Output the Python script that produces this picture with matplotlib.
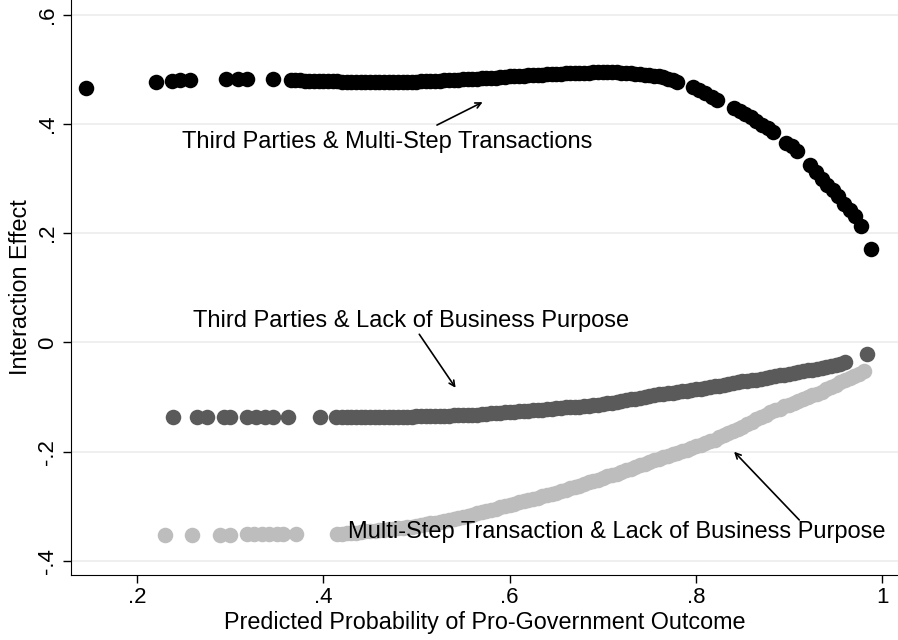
import matplotlib
matplotlib.use("Agg")
import matplotlib.pyplot as plt

plt.rcParams['font.family'] = ['Liberation Sans', 'DejaVu Sans']

# Third Parties & Multi-Step Transactions
tp_ms_x = [0.145, 0.220, 0.237, 0.246, 0.257, 0.295, 0.308, 0.318, 0.346,
           0.365, 0.370, 0.375, 0.380, 0.385, 0.390, 0.395, 0.400, 0.405, 0.410,
           0.415, 0.420, 0.425, 0.430, 0.435, 0.440, 0.445, 0.450, 0.455, 0.460,
           0.465, 0.470, 0.475, 0.480, 0.485, 0.490, 0.495, 0.500, 0.505, 0.510,
           0.515, 0.520, 0.525, 0.530, 0.535, 0.540, 0.545, 0.550, 0.555, 0.560,
           0.565, 0.570, 0.575, 0.580, 0.585, 0.590, 0.595, 0.600, 0.605, 0.610,
           0.615, 0.620, 0.625, 0.630, 0.635, 0.640, 0.645, 0.650, 0.655, 0.660,
           0.665, 0.670, 0.675, 0.680, 0.685, 0.690, 0.695, 0.700, 0.705, 0.710,
           0.715, 0.720, 0.725, 0.730, 0.735, 0.740, 0.745, 0.750, 0.755, 0.760,
           0.765, 0.770, 0.775, 0.780,
           0.797, 0.803, 0.810, 0.817, 0.823,
           0.841, 0.847, 0.853, 0.859, 0.865, 0.871, 0.877, 0.883,
           0.897, 0.903, 0.909,
           0.923, 0.929, 0.935, 0.941, 0.947, 0.953, 0.959, 0.965, 0.971, 0.977,
           0.988]
tp_ms_y = [0.466, 0.477, 0.479, 0.480, 0.481, 0.483, 0.483, 0.483, 0.483,
           0.480, 0.480, 0.480, 0.479, 0.479, 0.479, 0.479, 0.478, 0.478, 0.478,
           0.478, 0.477, 0.477, 0.477, 0.477, 0.477, 0.477, 0.477, 0.477, 0.477,
           0.477, 0.477, 0.477, 0.477, 0.477, 0.477, 0.477, 0.477, 0.478, 0.478,
           0.478, 0.479, 0.479, 0.480, 0.480, 0.481, 0.481, 0.482, 0.482, 0.483,
           0.483, 0.484, 0.484, 0.485, 0.485, 0.486, 0.486, 0.487, 0.487, 0.488,
           0.488, 0.489, 0.489, 0.490, 0.490, 0.491, 0.491, 0.492, 0.492, 0.493,
           0.493, 0.494, 0.494, 0.494, 0.494, 0.495, 0.495, 0.495, 0.495, 0.495,
           0.495, 0.494, 0.494, 0.493, 0.492, 0.491, 0.490, 0.489, 0.488, 0.487,
           0.486, 0.483, 0.480, 0.477,
           0.468, 0.463, 0.456, 0.450, 0.444,
           0.429, 0.423, 0.418, 0.412, 0.406, 0.399, 0.392, 0.385,
           0.366, 0.359, 0.350,
           0.324, 0.312, 0.300, 0.289, 0.279, 0.268, 0.254, 0.242, 0.231, 0.213,
           0.172]

# Third Parties & Lack of Business Purpose
tp_lbp_x = [0.239, 0.264, 0.275, 0.293, 0.300, 0.318, 0.328, 0.337, 0.346,
            0.362, 0.396, 0.414,
            0.420, 0.425, 0.430, 0.435, 0.440, 0.445, 0.450, 0.455, 0.460, 0.465,
            0.470, 0.475, 0.480, 0.485, 0.490, 0.495, 0.500, 0.505, 0.510, 0.515,
            0.520, 0.525, 0.530, 0.535, 0.540, 0.545, 0.550, 0.555, 0.560, 0.565,
            0.570, 0.575, 0.580, 0.585, 0.590, 0.595, 0.600, 0.605, 0.610, 0.615,
            0.620, 0.625, 0.630, 0.635, 0.640, 0.645, 0.650, 0.655, 0.660, 0.665,
            0.670, 0.675, 0.680, 0.685, 0.690, 0.695, 0.700, 0.705, 0.710, 0.715,
            0.720, 0.725, 0.730, 0.735, 0.740, 0.745, 0.750, 0.755, 0.760, 0.765,
            0.770, 0.775, 0.780, 0.785, 0.790, 0.795, 0.800, 0.805, 0.810, 0.815,
            0.820, 0.825, 0.830, 0.835, 0.840, 0.845, 0.850, 0.855, 0.860, 0.865,
            0.870, 0.875, 0.880, 0.885, 0.890, 0.895, 0.900, 0.905, 0.910, 0.915,
            0.920, 0.925, 0.930, 0.935, 0.940, 0.945, 0.950, 0.955, 0.960,
            0.984]
tp_lbp_y = [-0.137, -0.137, -0.137, -0.137, -0.137, -0.137, -0.137, -0.137, -0.137,
            -0.137, -0.137, -0.137,
            -0.137, -0.137, -0.137, -0.137, -0.137, -0.137, -0.137, -0.137, -0.137, -0.137,
            -0.137, -0.136, -0.136, -0.136, -0.136, -0.136, -0.135, -0.135, -0.135, -0.135,
            -0.134, -0.134, -0.134, -0.134, -0.133, -0.133, -0.133, -0.133, -0.132, -0.132,
            -0.131, -0.131, -0.130, -0.130, -0.129, -0.128, -0.128, -0.127, -0.126, -0.125,
            -0.125, -0.124, -0.123, -0.123, -0.122, -0.121, -0.120, -0.120, -0.119, -0.119,
            -0.118, -0.118, -0.117, -0.116, -0.115, -0.114, -0.112, -0.111, -0.110, -0.109,
            -0.107, -0.106, -0.104, -0.103, -0.101, -0.100, -0.098, -0.097, -0.095, -0.094,
            -0.093, -0.092, -0.090, -0.089, -0.088, -0.087, -0.086, -0.085, -0.083, -0.082,
            -0.080, -0.079, -0.077, -0.076, -0.074, -0.073, -0.071, -0.070, -0.069, -0.068,
            -0.066, -0.065, -0.063, -0.062, -0.060, -0.059, -0.057, -0.056, -0.054, -0.053,
            -0.051, -0.050, -0.048, -0.047, -0.045, -0.044, -0.042, -0.040, -0.036,
            -0.022]

# Multi-Step Transaction & Lack of Business Purpose
ms_lbp_x = [0.230, 0.259, 0.289, 0.300, 0.318, 0.326, 0.334, 0.342, 0.350,
            0.357, 0.371,
            0.415, 0.420, 0.425, 0.430, 0.435, 0.440, 0.445, 0.450, 0.455, 0.460,
            0.465, 0.470, 0.475, 0.480, 0.485, 0.490, 0.495, 0.500, 0.505, 0.510,
            0.515, 0.520, 0.525, 0.530, 0.535, 0.540, 0.545, 0.550, 0.555, 0.560,
            0.565, 0.570, 0.575, 0.580, 0.585, 0.590, 0.595, 0.600, 0.605, 0.610,
            0.615, 0.620, 0.625, 0.630, 0.635, 0.640, 0.645, 0.650, 0.655, 0.660,
            0.665, 0.670, 0.675, 0.680, 0.685, 0.690, 0.695, 0.700, 0.705, 0.710,
            0.715, 0.720, 0.725, 0.730, 0.735, 0.740, 0.745, 0.750, 0.755, 0.760,
            0.765, 0.770, 0.775, 0.780, 0.785, 0.790, 0.795, 0.800, 0.805, 0.810,
            0.815, 0.820, 0.825, 0.830, 0.835, 0.840, 0.845, 0.850, 0.855, 0.860,
            0.865, 0.870, 0.875, 0.880, 0.885, 0.890, 0.895, 0.900, 0.905, 0.910,
            0.915, 0.920, 0.925, 0.930, 0.935, 0.940, 0.945, 0.950, 0.955, 0.960,
            0.965, 0.970, 0.975, 0.981]
ms_lbp_y = [-0.353, -0.353, -0.352, -0.352, -0.351, -0.351, -0.351, -0.351, -0.351,
            -0.350, -0.350,
            -0.350, -0.350, -0.349, -0.349, -0.348, -0.347, -0.346, -0.346, -0.345, -0.344,
            -0.343, -0.342, -0.341, -0.340, -0.339, -0.338, -0.337, -0.336, -0.334, -0.333,
            -0.331, -0.330, -0.328, -0.327, -0.325, -0.323, -0.321, -0.319, -0.317, -0.315,
            -0.313, -0.311, -0.309, -0.307, -0.305, -0.302, -0.300, -0.298, -0.296, -0.293,
            -0.291, -0.289, -0.287, -0.285, -0.282, -0.280, -0.277, -0.275, -0.272, -0.270,
            -0.267, -0.265, -0.262, -0.259, -0.256, -0.254, -0.251, -0.248, -0.245, -0.243,
            -0.240, -0.237, -0.234, -0.231, -0.228, -0.225, -0.222, -0.219, -0.216, -0.213,
            -0.210, -0.207, -0.204, -0.202, -0.199, -0.196, -0.193, -0.190, -0.187, -0.184,
            -0.181, -0.178, -0.174, -0.170, -0.166, -0.162, -0.158, -0.154, -0.150, -0.146,
            -0.141, -0.137, -0.132, -0.128, -0.124, -0.121, -0.117, -0.114, -0.110, -0.107,
            -0.104, -0.100, -0.097, -0.094, -0.090, -0.086, -0.081, -0.077, -0.073, -0.069,
            -0.065, -0.062, -0.058, -0.053]

x_ticks = [0.2, 0.4, 0.6, 0.8, 1.0]
x_tick_labels = ['.2', '.4', '.6', '.8', '1']
y_ticks = [-0.4, -0.2, 0.0, 0.2, 0.4, 0.6]
y_tick_labels = ['-.4', '-.2', '0', '.2', '.4', '.6']

fig = plt.figure(figsize=(8.98, 6.4), dpi=100)
ax = fig.add_axes([0.079, 0.1016, 0.921, 0.8984])

# scatter the three series
ax.scatter(ms_lbp_x, ms_lbp_y, s=125, color='#bdbdbd', linewidths=0, zorder=3)
ax.scatter(tp_lbp_x, tp_lbp_y, s=125, color='#5a5a5a', linewidths=0, zorder=3)
ax.scatter(tp_ms_x, tp_ms_y, s=125, color='#000000', linewidths=0, zorder=3)

# labels with arrows
arrow = dict(arrowstyle='->', color='black', lw=1.2, shrinkA=0, shrinkB=0)
ax.annotate('', xy=(0.571, 0.440), xytext=(0.522, 0.398), arrowprops=arrow, zorder=4)
ax.text(0.248, 0.367, 'Third Parties & Multi-Step Transactions', fontsize=17,
        va='center', ha='left', zorder=5)
ax.annotate('', xy=(0.542, -0.083), xytext=(0.503, 0.015), arrowprops=arrow, zorder=4)
ax.text(0.260, 0.0385, 'Third Parties & Lack of Business Purpose', fontsize=17,
        va='center', ha='left', zorder=5)
ax.annotate('', xy=(0.841, -0.200), xytext=(0.911, -0.325), arrowprops=arrow, zorder=4)
ax.text(0.426, -0.347, 'Multi-Step Transaction & Lack of Business Purpose', fontsize=17,
        va='center', ha='left', zorder=5)

ax.set_xlim(0.129, 1.017)
ax.set_ylim(-0.4257, 0.627)
ax.set_xticks(x_ticks)
ax.set_xticklabels(x_tick_labels, fontsize=16)
ax.set_yticks(y_ticks)
ax.set_yticklabels(y_tick_labels, fontsize=16, rotation=90, va='center')
ax.tick_params(direction='out', length=6, width=1, pad=3)
ax.grid(True, axis='y', color='#ececec', lw=1.2)
ax.set_axisbelow(True)
for side in ['top', 'right']:
    ax.spines[side].set_visible(False)

ax.set_xlabel('Predicted Probability of Pro-Government Outcome', fontsize=16.8, labelpad=2)
ax.set_ylabel('Interaction Effect', fontsize=16.8, labelpad=4)

fig.savefig('out.png', dpi=100)
